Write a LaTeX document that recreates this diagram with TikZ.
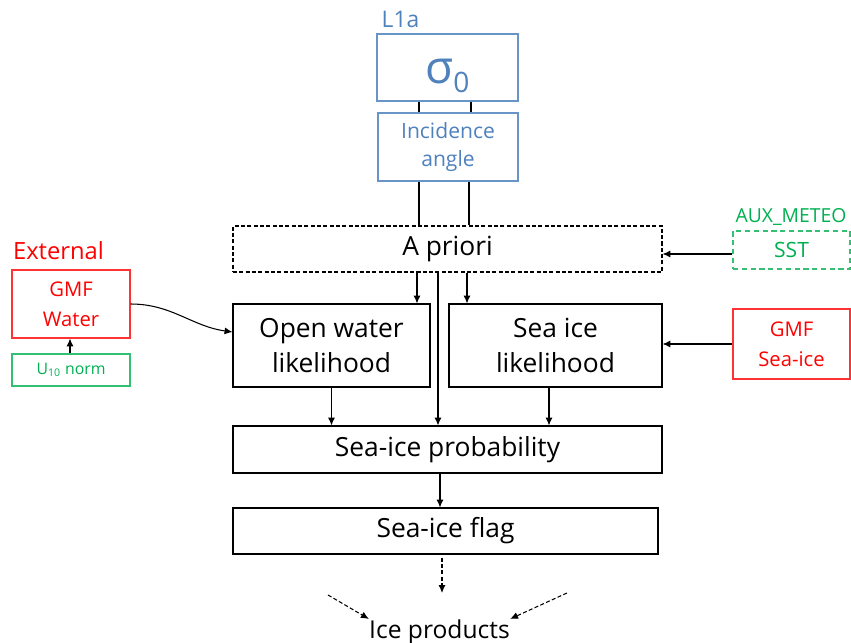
\documentclass[tikz,border=0pt]{standalone}
\usepackage{fontspec}
\setmainfont{Open Sans}
\usepackage{xcolor}
\usetikzlibrary{arrows.meta}
\definecolor{lblue}{RGB}{79,129,189}
\definecolor{xred}{RGB}{255,0,0}
\definecolor{agreen}{RGB}{0,176,80}

\begin{document}
\begin{tikzpicture}[scale=0.2,
  box/.style={draw,line width=0.6pt,inner sep=0pt,align=center,font=\fontsize{15}{20}\selectfont},
  lbox/.style={box,draw=lblue!85,text=lblue},
  xbox/.style={box,draw=xred!80,text=xred,font=\fontsize{11.5}{17}\selectfont},
  gbox/.style={box,draw=agreen!80,text=agreen},
  tag/.style={inner sep=0pt,anchor=base},
  flow/.style={-{Latex[length=4.5pt,width=4pt]},line width=0.6pt},
  dsh/.style={dash pattern=on 2.3pt off 1.3pt}]
\useasboundingbox (0,0) rectangle (85.1,-64.3);
\node [tag,text=lblue,font=\fontsize{13}{15}\selectfont] (l1a) at (40.05,-2.7) {L1a};
\node [lbox,minimum width=2.82cm,minimum height=1.34cm,text height=18.7pt,text depth=0pt,font=\fontsize{26}{30}\selectfont] (sig) at (44.75,-6.75) {σ\raisebox{-5pt}{\fontsize{16}{18}\selectfont 0}};
\node [lbox,minimum width=2.8cm,minimum height=1.36cm,font=\fontsize{12}{16}\selectfont] (inc) at (44.8,-14.7) {Incidence\\angle};
\node [box,dsh,minimum width=8.58cm,minimum height=0.92cm] (apri) at (44.75,-24.9) {A priori};
\node [box,minimum width=3.94cm,minimum height=1.66cm] (ow) at (33.15,-34.55) {Open water\\likelihood};
\node [box,minimum width=4.26cm,minimum height=1.66cm] (si) at (55.55,-34.55) {Sea ice\\likelihood};
\node [box,minimum width=8.58cm,minimum height=0.94cm] (prob) at (44.75,-44.95) {Sea-ice probability};
\node [box,minimum width=8.5cm,minimum height=0.92cm] (flag) at (44.55,-53.1) {Sea-ice flag};
\node [tag,font=\fontsize{14}{16}\selectfont] (prod) at (43.95,-63.8) {Ice products};
\node [tag,text=xred,font=\fontsize{13.5}{16}\selectfont] (ext) at (5.85,-25.9) {External};
\node [xbox,minimum width=2.36cm,minimum height=1.36cm] (gmfw) at (7.1,-30.4) {GMF\\Water};
\node [gbox,minimum width=2.36cm,minimum height=0.64cm,font=\fontsize{9}{11}\selectfont] (u10) at (7.1,-37.0) {U\textsubscript{10} norm};
\node [tag,text=agreen,font=\fontsize{11}{13}\selectfont] (aux) at (79.1,-22.2) {AUX\_METEO};
\node [gbox,dash pattern=on 3pt off 2pt,minimum width=2.34cm,minimum height=0.76cm,font=\fontsize{12}{14}\selectfont] (sst) at (79.15,-25.0) {SST};
\node [xbox,minimum width=2.34cm,minimum height=1.4cm] (gmfs) at (79.15,-34.4) {GMF\\Sea-ice};
\coordinate (pl) at (32.8,-59.5);
\coordinate (pr) at (56.7,-59.3);
\draw [line width=0.6pt] ([xshift=-2.85cm]sig.south) -- ([xshift=-2.85cm]sig.south |- inc.north);
\draw [line width=0.6pt] ([xshift=2.35cm]sig.south) -- ([xshift=2.35cm]sig.south |- inc.north);
\draw [line width=0.6pt] ([xshift=-2.9cm]inc.south) -- ([xshift=-2.9cm]inc.south |- apri.north);
\draw [line width=0.6pt] ([xshift=2.1cm]inc.south) -- ([xshift=2.1cm]inc.south |- apri.north);
\draw [flow] ([xshift=-3.05cm]apri.south) -- ([xshift=-3.05cm]apri.south |- ow.north);
\draw [flow] ([xshift=1.95cm]apri.south) -- ([xshift=1.95cm]apri.south |- si.north);
\draw [flow] ([xshift=-0.95cm]apri.south) -- ([xshift=-0.95cm]apri.south |- prob.north);
\draw [flow] (ow.south) -- (ow.south |- prob.north);
\draw [flow] ([xshift=-0.65cm]si.south) -- ([xshift=-0.65cm]si.south |- prob.north);
\draw [flow] ([xshift=-0.75cm]prob.south) -- ([xshift=-0.75cm]prob.south |- flag.north);
\draw [flow,dsh,shorten <=0.06cm,shorten >=0.52cm] ([xshift=-0.35cm]flag.south) -- ([xshift=-0.35cm]flag.south |- prod.north);
\draw [flow,dsh] (pl) -- (prod.north west);
\draw [flow,dsh] (pr) -- (prod.north east);
\draw [flow] ([yshift=-0.4cm]sst.west) -- ([yshift=-0.4cm]sst.west -| apri.east);
\draw [flow] (gmfs.west) -- (gmfs.west -| si.east);
\draw [flow] ([xshift=-0.1cm]u10.north) -- ([xshift=-0.1cm]u10.north |- gmfw.south);
\draw [flow] (gmfw.east) to[out=0,in=172] ([yshift=1.35cm]ow.west);
\end{tikzpicture}
\end{document}
